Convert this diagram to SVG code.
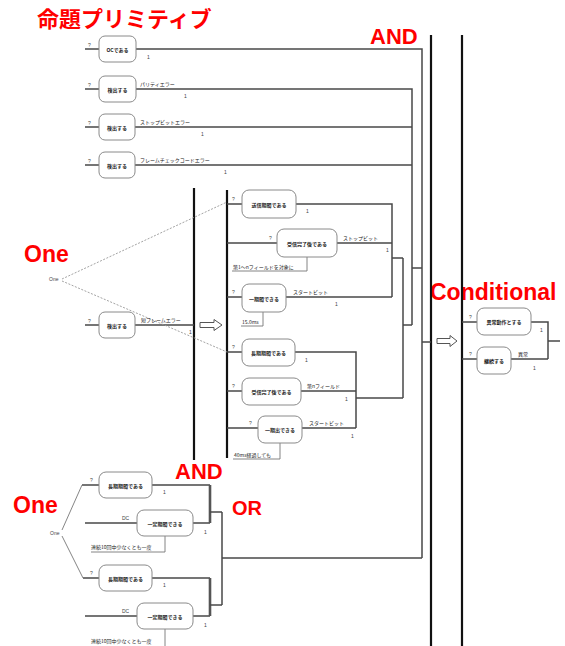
<svg xmlns="http://www.w3.org/2000/svg" width="565" height="646" viewBox="0 0 565 646">
<style>
.ln{stroke:#484848;stroke-width:1.5;fill:none}
.thin{stroke:#777;stroke-width:0.9;fill:none}
.dash{stroke:#999;stroke-width:0.9;fill:none;stroke-dasharray:2 1.5}
.bar{stroke:#111;stroke-width:2.2;fill:none}
.dbl{stroke:#555;stroke-width:2.6;fill:none}
.box{fill:#fff;stroke:#8a8a8a;stroke-width:1}
.arw{fill:#fff;stroke:#555;stroke-width:1}
.nt{font-family:"Noto Sans CJK JP","Noto Sans",sans-serif;font-size:5px;font-weight:bold;fill:#222;text-anchor:middle;dominant-baseline:central}
.lb{font-family:"Noto Sans CJK JP","Noto Sans",sans-serif;font-size:5px;fill:#222}
.sm{font-family:"Liberation Sans",sans-serif;font-size:5px;fill:#444}
.red{font-family:"Liberation Sans",sans-serif;font-weight:bold;fill:#ff0000}
.redj{font-family:"Noto Sans CJK JP",sans-serif;font-weight:bold;fill:#ff0000}
</style>
<rect width="565" height="646" fill="#fff"/>
<g id="titles">
<text class="redj" x="37" y="27" font-size="22">命題プリミティブ</text>
<text class="red" x="370" y="44" font-size="22">AND</text>
<text class="red" x="24" y="262" font-size="23">One</text>
<text class="red" x="430" y="300" font-size="23">Conditional</text>
<text class="red" x="175" y="479" font-size="22">AND</text>
<text class="red" x="13" y="513" font-size="23">One</text>
<text class="red" x="232" y="515" font-size="20">OR</text>
</g>
<g id="connectors">
<path class="bar" d="M194,188V460M227,190V458M431,35V646M462,35V646"/>
<path class="ln" d="M85,49H99M136,49H422V558"/>
<path class="ln" d="M85,89H99M136,89H412V325"/>
<path class="ln" d="M85,127H99M135,127H412"/>
<path class="ln" d="M85,165H99M135,165H412"/>
<path class="ln" d="M412,268H422M422,342H431"/>
<path class="ln" d="M227,204H242M296,204H392V297"/>
<path class="ln" d="M227,243H277M337,243H392"/>
<path class="ln" d="M227,297H242M286,297H392"/>
<path class="ln" d="M392,258H403M403,258V398M403,325H412"/>
<path class="thin" d="M307,257V271H232M263,312V326H241M280,442V459H233"/>
<path class="ln" d="M85,325H99M135,325H194"/>
<path class="ln" d="M227,352H242M295,352H356V428"/>
<path class="ln" d="M227,391H242M301,391H356"/>
<path class="ln" d="M227,428H258M302,428H356"/>
<path class="ln" d="M356,398H403"/>
<path class="dash" d="M62,279L227,202M62,281L227,352"/>
<path class="arw" d="M200,322.5H214V319.5L222,325L214,330.5V327.5H200Z"/>
<path class="arw" d="M437,338.5H450V335.5L457,341L450,346.5V343.5H437Z"/>
<path class="ln" d="M82,485H99M152,485H210M85,523H137M193,523H210"/>
<path class="ln" d="M83,578H99M152,578H210M85,616H137M193,616H210"/>
<path class="dbl" d="M210,485V523M210,578V616"/>
<path class="ln" d="M210,512H222M210,605H222M222,512V605M222,558H422"/>
<path class="thin" d="M165,536V552H91M165,629V646"/>
<path class="thin" d="M62,530L82,485M62,536L83,578"/>
<path class="ln" d="M462,322H477M531,322H548V359M462,359H477M511,359H548M548,341H560"/>
</g>
<g id="n1"><rect class="box" x="99" y="36" width="37" height="26" rx="6"/><text class="nt" x="117.5" y="49">OCである</text><text class="sm" x="88" y="47">?</text><text class="sm" x="147" y="59">1</text></g>
<g id="n2"><rect class="box" x="99" y="76" width="37" height="26" rx="6"/><text class="nt" x="117.5" y="89">検出する</text><text class="sm" x="88" y="87">?</text><text class="lb" x="140" y="86">パリティエラー</text><text class="sm" x="184" y="98">1</text></g>
<g id="n3"><rect class="box" x="99" y="114" width="36" height="26" rx="6"/><text class="nt" x="117" y="127">検出する</text><text class="sm" x="88" y="125">?</text><text class="lb" x="140" y="124">ストップビットエラー</text><text class="sm" x="201" y="136">1</text></g>
<g id="n4"><rect class="box" x="99" y="152" width="36" height="26" rx="6"/><text class="nt" x="117" y="165">検出する</text><text class="sm" x="88" y="163">?</text><text class="lb" x="140" y="162">フレームチェックコードエラー</text><text class="sm" x="224" y="174">1</text></g>
<g id="one1"><text class="sm" x="49" y="281">One</text></g>
<g id="n5"><rect class="box" x="99" y="312" width="36" height="26" rx="6"/><text class="nt" x="117" y="325">検出する</text><text class="sm" x="88" y="323">?</text><text class="lb" x="141" y="322">短フレームエラー</text><text class="sm" x="189" y="334">1</text></g>
<g id="a1"><rect class="box" x="242" y="190" width="54" height="28" rx="7"/><text class="nt" x="269" y="204">送信期間である</text><text class="sm" x="232" y="201">?</text><text class="sm" x="306" y="213">1</text></g>
<g id="a2"><rect class="box" x="277" y="229" width="60" height="28" rx="7"/><text class="nt" x="307" y="243">受信完了後である</text><text class="sm" x="269" y="240">?</text><text class="lb" x="343" y="240">ストップビット</text><text class="sm" x="386" y="252">1</text><text class="lb" x="233" y="269">第1～nフィールドを対象に</text></g>
<g id="a3"><rect class="box" x="242" y="284" width="44" height="28" rx="7"/><text class="nt" x="264" y="298">一期間できる</text><text class="sm" x="232" y="294">?</text><text class="lb" x="293" y="294">スタートビット</text><text class="sm" x="335" y="306">1</text><text class="lb" x="242" y="324">15.0ms</text></g>
<g id="b1"><rect class="box" x="242" y="339" width="53" height="27" rx="7"/><text class="nt" x="268.5" y="352.5">長期期間である</text><text class="sm" x="232" y="349">?</text><text class="sm" x="305" y="362">1</text></g>
<g id="b2"><rect class="box" x="242" y="378" width="59" height="27" rx="7"/><text class="nt" x="271.5" y="391.5">受信完了後である</text><text class="sm" x="232" y="388">?</text><text class="lb" x="307" y="388">第nフィールド</text><text class="sm" x="345" y="401">1</text></g>
<g id="b3"><rect class="box" x="258" y="416" width="44" height="27" rx="7"/><text class="nt" x="280" y="429.5">一期出できる</text><text class="sm" x="249" y="425">?</text><text class="lb" x="309" y="425">スタートビット</text><text class="sm" x="351" y="438">1</text><text class="lb" x="234" y="457">40ms経過しても</text></g>
<g id="one2"><text class="sm" x="50" y="535">One</text></g>
<g id="c1"><rect class="box" x="99" y="472" width="53" height="26" rx="7"/><text class="nt" x="125.5" y="485">長期期間である</text><text class="sm" x="90" y="482">?</text><text class="sm" x="163" y="494">1</text></g>
<g id="c2"><rect class="box" x="137" y="510" width="56" height="26" rx="7"/><text class="nt" x="165" y="523">一定期間できる</text><text class="sm" x="122" y="520">DC</text><text class="sm" x="204" y="534">1</text><text class="lb" x="91" y="549">連続10回中少なくとも一度</text></g>
<g id="c3"><rect class="box" x="99" y="565" width="53" height="26" rx="7"/><text class="nt" x="125.5" y="578">長期期間である</text><text class="sm" x="90" y="575">?</text><text class="sm" x="163" y="587">1</text></g>
<g id="c4"><rect class="box" x="137" y="603" width="56" height="26" rx="7"/><text class="nt" x="165" y="616">一定期間できる</text><text class="sm" x="122" y="613">DC</text><text class="sm" x="204" y="627">1</text><text class="lb" x="91" y="643">連続10回中少なくとも一度</text></g>
<g id="d1"><rect class="box" x="477" y="308" width="54" height="27" rx="7"/><text class="nt" x="504" y="321.5">異常動作とする</text><text class="sm" x="469" y="319">?</text><text class="sm" x="540" y="332">1</text></g>
<g id="d2"><rect class="box" x="477" y="347" width="34" height="27" rx="7"/><text class="nt" x="494" y="360.5">継続する</text><text class="sm" x="469" y="356">?</text><text class="lb" x="518" y="356">異常</text><text class="sm" x="533" y="370">1</text></g>
</svg>
